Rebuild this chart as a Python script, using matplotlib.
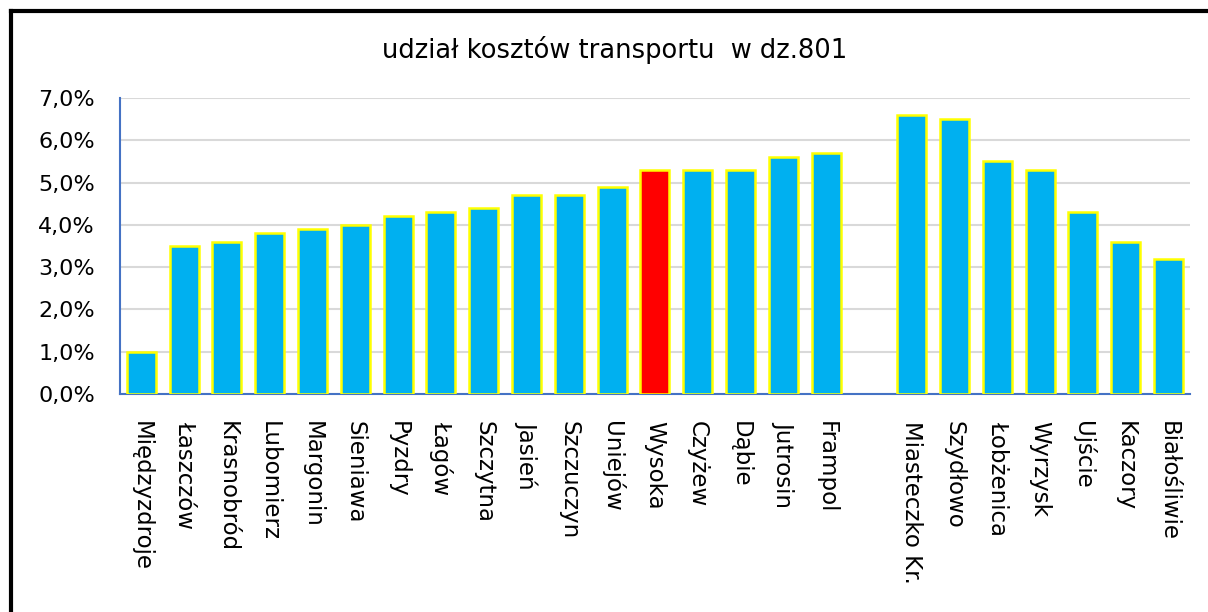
import numpy as np
import matplotlib.pyplot as plt
from matplotlib.lines import Line2D
from matplotlib.ticker import FuncFormatter, MultipleLocator

# group 1 (before the gap)
names_a = ['Międzyzdroje', 'Łaszczów', 'Krasnobród', 'Lubomierz', 'Margonin', 'Sieniawa',
           'Pyzdry', 'Łagów', 'Szczytna', 'Jasień', 'Szczuczyn', 'Uniejów', 'Wysoka',
           'Czyżew', 'Dąbie', 'Jutrosin', 'Frampol']
values_a = [1.0, 3.5, 3.6, 3.8, 3.9, 4.0, 4.2, 4.3, 4.4, 4.7, 4.7, 4.9, 5.3, 5.3, 5.3, 5.6, 5.7]

# group 2 (after the gap)
names_b = ['Miasteczko Kr.', 'Szydłowo', 'Łobżenica', 'Wyrzysk', 'Ujście', 'Kaczory', 'Białośliwie']
values_b = [6.6, 6.5, 5.5, 5.3, 4.3, 3.6, 3.2]

highlight = 'Wysoka'

names = names_a + names_b
values = np.array(values_a + values_b) / 100
pos = np.concatenate([np.arange(len(names_a)), np.arange(len(names_b)) + len(names_a) + 1])
colors = ['#FF0000' if n == highlight else '#00B0F0' for n in names]

fig = plt.figure(figsize=(12.08, 6.12), dpi=100)
ax = fig.add_axes([0.0993, 0.356, 0.8857, 0.484])

ax.bar(pos, values, width=0.68, color=colors, edgecolor='#FFFF00', linewidth=1.8, zorder=3)

ax.set_xlim(-0.5, len(names_a) + len(names_b) + 0.5)
ax.set_ylim(0, 0.07)
ax.yaxis.set_major_locator(MultipleLocator(0.01))
ax.yaxis.set_major_formatter(FuncFormatter(lambda v, p: f"{v*100:.1f}%".replace('.', ',')))
ax.grid(axis='y', color='#D9D9D9', linewidth=1.5, zorder=0)

ax.set_xticks(pos)
ax.set_xticklabels(names, rotation=-90, fontsize=16.5, va='top', ha='center')
ax.tick_params(axis='x', length=0, pad=19)
ax.tick_params(axis='y', length=0, pad=18, labelsize=16)

for s in ['top', 'right']:
    ax.spines[s].set_visible(False)
for s in ['left', 'bottom']:
    ax.spines[s].set_color('#4472C4')
    ax.spines[s].set_linewidth(1.5)

fig.text(0.509, 0.918, 'udział kosztów transportu  w dz.801', ha='center', va='center', fontsize=18.5)

# outer frame (cropped on right and bottom)
fx = 10.5 / 1208
fy = 1 - 10.5 / 612
fig.add_artist(Line2D([fx, fx], [0, fy], color='black', linewidth=3, transform=fig.transFigure))
fig.add_artist(Line2D([fx, 1], [fy, fy], color='black', linewidth=3, transform=fig.transFigure))

fig.savefig('out.png', dpi=100)
